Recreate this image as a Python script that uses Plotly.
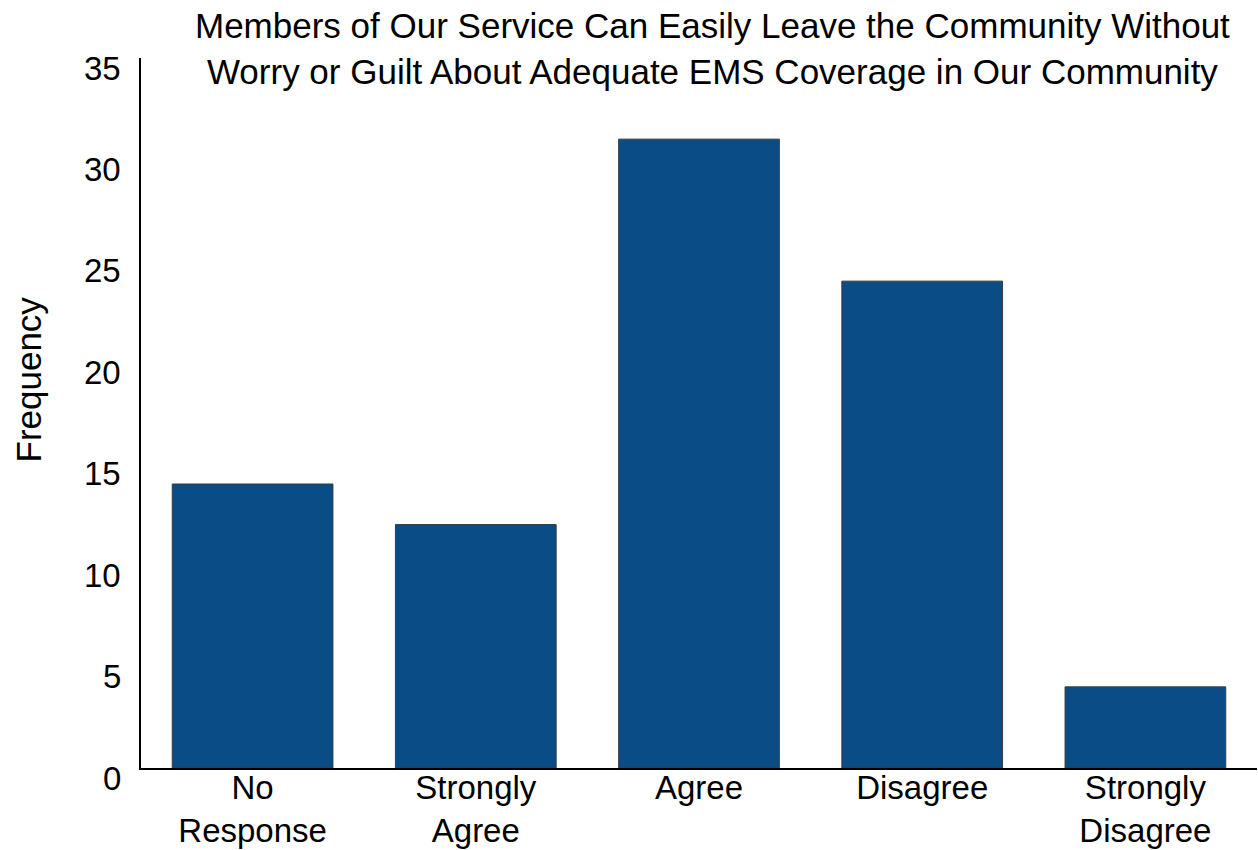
import plotly.graph_objects as go

categories = ["No<br>Response", "Strongly<br>Agree", "Agree", "Disagree", "Strongly<br>Disagree"]
frequency = [14, 12, 31, 24, 4]
y_ticks = [0, 5, 10, 15, 20, 25, 30, 35]

title_text = ("Members of Our Service Can Easily Leave the Community Without<br>"
              "Worry or Guilt About Adequate EMS Coverage in Our Community")
y_title = "Frequency"

FONT = "Liberation Sans, Arial, sans-serif"
TITLE_SIZE = 35
TICK_SIZE = 33

fig = go.Figure(
    go.Bar(
        x=categories,
        y=frequency,
        width=0.72,
        marker=dict(color="#0a4d86", line=dict(color="#3a3a3a", width=1)),
    )
)

annotations = [
    dict(
        text=title_text,
        xref="paper", yref="paper",
        x=0.5125, y=1.0127,
        xanchor="center", yanchor="middle",
        showarrow=False,
        font=dict(family=FONT, size=TITLE_SIZE, color="black"),
    ),
    dict(
        text=y_title,
        xref="paper", yref="paper",
        x=-0.1008, y=0.5465,
        xanchor="center", yanchor="middle",
        textangle=-90,
        showarrow=False,
        font=dict(family=FONT, size=TITLE_SIZE, color="black"),
    ),
]

# value labels for the y axis, placed on the axis scale and nudged slightly below each tick
for v in y_ticks:
    annotations.append(
        dict(
            text=str(v),
            xref="paper", yref="y",
            x=0, y=v,
            xanchor="right", yanchor="middle",
            xshift=-18, yshift=-10,
            showarrow=False,
            font=dict(family=FONT, size=TICK_SIZE, color="black"),
        )
    )

fig.update_layout(
    width=1258,
    height=850,
    margin=dict(l=141, r=1, t=58, b=82),
    paper_bgcolor="white",
    plot_bgcolor="white",
    font=dict(family=FONT, size=TICK_SIZE, color="black"),
    showlegend=False,
    annotations=annotations,
)

fig.update_xaxes(
    range=[-0.5, 4.5],
    automargin=False,
    showline=True, linecolor="black", linewidth=2,
    ticks="", showgrid=False, zeroline=False,
    ticklabelstandoff=-11,
    tickfont=dict(family=FONT, size=TICK_SIZE, color="black"),
)

fig.update_yaxes(
    range=[0, 35],
    automargin=False,
    tickvals=y_ticks,
    showticklabels=False,
    showline=True, linecolor="black", linewidth=2,
    ticks="", showgrid=False, zeroline=False,
)

fig.write_html("out.html")
